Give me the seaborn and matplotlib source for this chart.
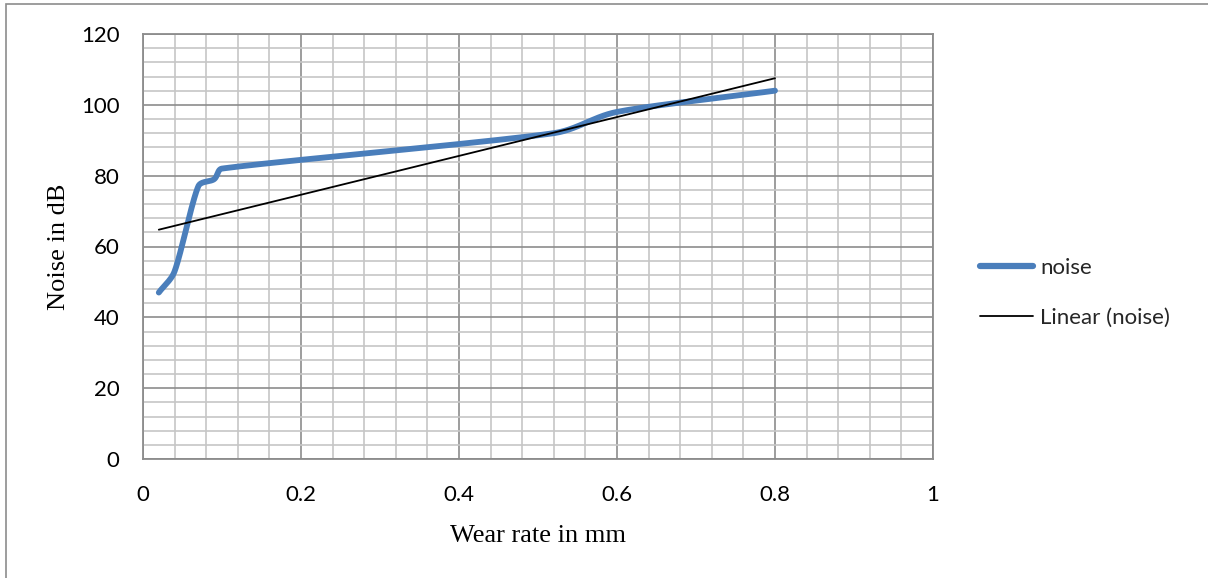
import numpy as np
import matplotlib
matplotlib.use("Agg")
import matplotlib.pyplot as plt
import seaborn as sns
from matplotlib.ticker import MultipleLocator
from matplotlib.lines import Line2D
from matplotlib.patches import Rectangle

# Measured wear rate (mm) and noise level (dB)
wear_mm = [0.02, 0.04, 0.07, 0.09, 0.10, 0.52, 0.60, 0.80]
noise_db = [47, 53, 77, 79, 82, 92, 98, 104]

x_ticks = [0, 0.2, 0.4, 0.6, 0.8, 1]
y_ticks = [0, 20, 40, 60, 80, 100, 120]
x_tick_labels = ["0", "0.2", "0.4", "0.6", "0.8", "1"]
y_tick_labels = ["0", "20", "40", "60", "80", "100", "120"]

BLUE = "#4A7EBB"
GRID_MAJOR = "#8C8C8C"
GRID_MINOR = "#C6C6C6"
TICK_FONT = "Lato"
LABEL_FONT = "Liberation Serif"

# axes size in pixels, used so smoothing works in screen proportions
AX_W_PX, AX_H_PX = 790, 425
X_RANGE, Y_RANGE = 1.0, 120.0


def smooth_path(xs, ys, n=60, cap=0.35):
    """Bezier smoothing through every point.  Each control arm follows the
    neighbour chord (length chord/6) but is limited to a fraction of the
    segment on its own side, so short segments do not overshoot."""
    sx, sy = AX_W_PX / X_RANGE, AX_H_PX / Y_RANGE
    p = np.column_stack([np.asarray(xs) * sx, np.asarray(ys) * sy])
    m = len(p)
    seg_len = np.linalg.norm(np.diff(p, axis=0), axis=1)
    tangents = np.zeros_like(p)
    arm_in = np.zeros(m)
    arm_out = np.zeros(m)
    for i in range(m):
        d = p[min(i + 1, m - 1)] - p[max(i - 1, 0)]
        tangents[i] = d / np.linalg.norm(d)
        if 0 < i < m - 1:
            base = np.linalg.norm(d) / 6.0
            arm_in[i] = min(base, cap * seg_len[i - 1])
            arm_out[i] = min(base, cap * seg_len[i])
        elif i == 0:
            arm_out[i] = seg_len[0] / 3.0
        else:
            arm_in[i] = seg_len[-1] / 3.0
    t = np.linspace(0, 1, n)[:, None]
    out = []
    for i in range(m - 1):
        p1, p2 = p[i], p[i + 1]
        c1 = p1 + tangents[i] * arm_out[i]
        c2 = p2 - tangents[i + 1] * arm_in[i + 1]
        seg = ((1 - t) ** 3) * p1 + 3 * ((1 - t) ** 2) * t * c1 \
            + 3 * (1 - t) * t ** 2 * c2 + t ** 3 * p2
        out.append(seg if i == 0 else seg[1:])
    path = np.vstack(out)
    return path[:, 0] / sx, path[:, 1] / sy


sns.set_style("white")
plt.rcParams["font.family"] = [TICK_FONT, "DejaVu Sans"]

fig = plt.figure(figsize=(12.08, 5.78), dpi=100)
ax = fig.add_axes([143 / 1208, 1 - 459 / 578, AX_W_PX / 1208, AX_H_PX / 578])

# Smoothed data series
cx, cy = smooth_path(wear_mm, noise_db)
sns.lineplot(x=cx, y=cy, ax=ax, color=BLUE, linewidth=4.2, sort=False,
             estimator=None, solid_capstyle="round", zorder=4)

# Least-squares linear trend over the data range
coef = np.polyfit(wear_mm, noise_db, 1)
tx = np.array([min(wear_mm), max(wear_mm)])
sns.lineplot(x=tx, y=np.polyval(coef, tx), ax=ax, color="black",
             linewidth=1.3, sort=False, estimator=None, zorder=5)

ax.set_xlim(0, X_RANGE)
ax.set_ylim(0, Y_RANGE)
ax.set_xticks(x_ticks)
ax.set_xticklabels(x_tick_labels)
ax.set_yticks(y_ticks)
ax.set_yticklabels(y_tick_labels)
ax.xaxis.set_minor_locator(MultipleLocator(0.04))
ax.yaxis.set_minor_locator(MultipleLocator(4))

ax.grid(which="minor", color=GRID_MINOR, linewidth=1.2, zorder=1)
ax.grid(which="major", color=GRID_MAJOR, linewidth=1.2, zorder=2)
ax.set_axisbelow(True)

for side in ["left", "bottom", "top", "right"]:
    ax.spines[side].set_color(GRID_MAJOR)
    ax.spines[side].set_linewidth(1.3)

ax.tick_params(which="major", length=6, width=1.2, color=GRID_MAJOR,
               labelsize=16, labelcolor="black")
ax.tick_params(which="minor", length=0)
ax.tick_params(axis="y", pad=11)
ax.tick_params(axis="x", pad=13)

ax.set_xlabel("Wear rate in mm", fontfamily=LABEL_FONT, fontsize=19,
              labelpad=14, color="black")
ax.set_ylabel("Noise in dB", fontfamily=LABEL_FONT, fontsize=19,
              labelpad=8, color="black")

handles = [Line2D([], [], color=BLUE, linewidth=4.5, solid_capstyle="round"),
           Line2D([], [], color="black", linewidth=1.3)]
fig.legend(handles, ["noise", "Linear (noise)"], loc="center left",
           bbox_to_anchor=(980 / 1208, 1 - 293 / 578), frameon=False,
           borderpad=0, borderaxespad=0, handlelength=2.4,
           handletextpad=0.3, labelspacing=1.35,
           prop={"family": TICK_FONT, "size": 16})

# Chart-area border
fig.patches.append(Rectangle((6 / 1208, -0.02), 1.05, 1.02 - 4 / 578,
                             transform=fig.transFigure, fill=False,
                             edgecolor=GRID_MAJOR, linewidth=1.2))

fig.savefig("out.png", dpi=100, facecolor="white")
